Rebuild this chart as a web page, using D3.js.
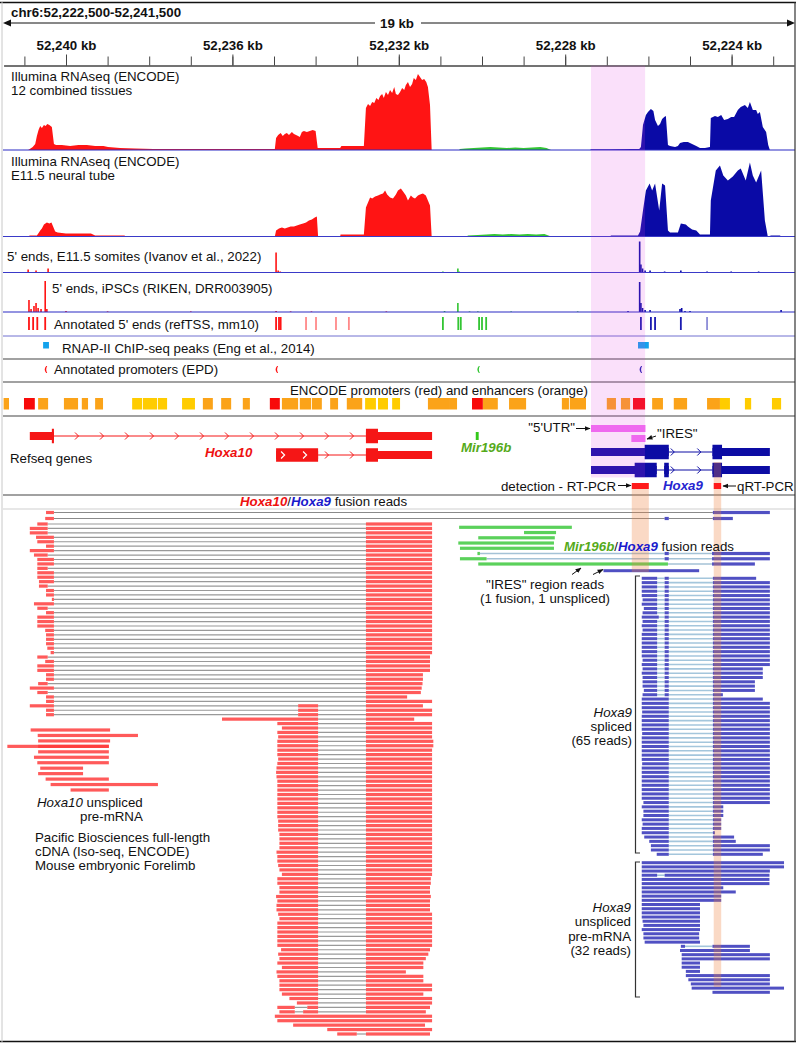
<!DOCTYPE html>
<html><head><meta charset="utf-8">
<script src="https://cdn.jsdelivr.net/npm/d3@7/dist/d3.min.js"></script>
<style>
html,body{margin:0;padding:0;background:#fff;}
svg{display:block;}
text{font-family:"Liberation Sans",Arial,Helvetica,sans-serif;font-size:13.3px;fill:#111;}
</style></head><body>
<svg id="chart" width="798" height="1045"></svg>
<script>
// ================= DATA =================
// Locus positions are kb from the left edge of the window (chr6:52,241,500), read rightwards
// (the view is reverse-complemented: genomic coordinate = 52241.5 - position).
const winStartKb = 52241.5;
const majorTickKb = [52240, 52236, 52232, 52228, 52224];
const minorTickKb = [52241,52240,52239,52238,52237,52236,52235,52234,52233,52232,52231,52230,52229,52228,52227,52226,52225,52224,52223];

// Illumina RNA-seq coverage, 12 combined tissues: [position, coverage]
const covTissuesRed = [[0.59,0],[0.63,1],[0.70,3],[0.76,6],[0.80,14],[0.84,20],[0.88,24],[0.92,22],[0.97,25],[1.01,24],[1.05,26],[1.10,25],[1.16,23],[1.21,6],[1.26,5],[1.40,5],[1.60,4],[1.80,5],[2.00,5],[2.20,4],[2.40,4],[2.51,3],[2.80,2],[3.16,1.5],[3.60,1],[4.24,1],[5.40,1],[6.20,1],[6.52,1],[6.55,12],[6.60,15],[6.66,17],[6.71,14],[6.76,16],[6.81,17],[6.86,15],[6.93,18],[6.98,16],[7.03,15],[7.08,14],[7.12,13],[7.17,18],[7.22,19],[7.29,18],[7.36,19],[7.43,20],[7.50,19],[7.55,2],[8.09,2],[8.12,4],[8.66,4],[8.71,42],[8.76,46],[8.81,44],[8.86,48],[8.91,47],[8.96,52],[9.01,50],[9.05,54],[9.10,56],[9.14,52],[9.19,58],[9.24,55],[9.29,60],[9.34,57],[9.39,63],[9.43,56],[9.48,55],[9.53,58],[9.58,62],[9.63,60],[9.67,65],[9.72,68],[9.77,63],[9.82,66],[9.86,72],[9.91,70],[9.96,76],[10.01,73],[10.06,70],[10.11,71],[10.16,68],[10.20,63],[10.25,45],[10.29,0]];
const covTissuesGreen = [[10.95,0],[10.97,1],[11.10,1.5],[11.30,2],[11.50,2.5],[11.70,3],[11.90,2.5],[12.10,2],[12.30,2.5],[12.50,2],[12.70,2.5],[12.90,3],[13.05,2],[13.16,0]];
const covTissuesBlue = [[14.10,0],[14.12,0.8],[14.60,0.8],[15.10,1],[15.28,1],[15.32,3],[15.37,25],[15.44,35],[15.49,38],[15.56,41],[15.62,39],[15.66,30],[15.73,24],[15.78,26],[15.83,31],[15.88,33],[15.92,34],[15.97,5],[16.02,4],[16.14,3],[16.21,4],[16.26,7],[16.35,8],[16.45,8],[16.55,6],[16.65,4],[16.74,2],[16.86,2],[16.98,3],[17.00,32],[17.05,33],[17.10,34],[17.17,33],[17.25,35],[17.32,30],[17.41,31],[17.49,33],[17.56,33],[17.65,40],[17.72,43],[17.82,45],[17.89,42],[17.94,48],[18.01,40],[18.09,40],[18.13,36],[18.18,38],[18.25,23],[18.33,18],[18.38,5],[18.42,0]];

// Illumina RNA-seq coverage, E11.5 neural tube
const covNeuralRed = [[0.59,0],[0.63,1],[0.80,1],[0.85,4],[0.88,6],[0.92,8],[0.97,12],[1.04,14],[1.10,13],[1.15,14],[1.19,10],[1.24,5],[1.30,4],[1.50,3],[1.80,3],[2.10,3],[2.20,1],[2.90,1],[2.95,0],[6.52,0],[6.55,6],[6.62,8],[6.69,9],[6.76,8],[6.83,9],[6.90,10],[6.98,10],[7.05,11],[7.12,12],[7.20,13],[7.27,14],[7.34,16],[7.41,17],[7.48,19],[7.53,20],[7.56,0],[8.09,0],[8.10,2],[8.66,2],[8.71,29],[8.76,34],[8.81,39],[8.86,38],[8.93,40],[9.00,41],[9.05,42],[9.12,43],[9.17,46],[9.22,42],[9.29,39],[9.36,38],[9.43,42],[9.48,46],[9.55,48],[9.62,44],[9.67,41],[9.72,36],[9.79,41],[9.84,39],[9.89,38],[9.96,41],[10.01,42],[10.08,43],[10.15,41],[10.20,36],[10.25,31],[10.29,0]];
const covNeuralGreen = [[11.14,0],[11.16,1],[11.40,1.5],[11.60,2],[11.80,2.5],[12.00,2],[12.20,2.5],[12.40,2],[12.60,2.5],[12.80,2],[13.00,2.5],[13.16,0]];
const covNeuralBlue = [[14.58,0],[14.60,1],[15.25,1],[15.30,5],[15.37,26],[15.44,46],[15.53,53],[15.59,46],[15.66,53],[15.76,26],[15.83,53],[15.90,51],[15.97,6],[16.02,4],[16.21,4],[16.28,13],[16.40,12],[16.45,10],[16.55,7],[16.65,6],[16.74,2],[16.98,2],[17.00,36],[17.12,66],[17.22,71],[17.30,61],[17.41,56],[17.53,60],[17.65,66],[17.72,68],[17.84,56],[17.94,74],[18.01,61],[18.09,54],[18.21,66],[18.30,16],[18.37,0],[18.45,1],[18.66,1],[18.70,0]];

// 5' end (CAGE-like) counts: [position, count]
const somitesRed = [[0.59,3],[0.78,2],[1.07,4],[6.55,20],[6.60,2],[6.65,1]];
const somitesGreen = [[10.56,1],[10.92,4],[10.95,1]];
const somitesBlue = [[15.29,31],[15.32,8],[15.36,4],[15.42,2],[15.54,2],[15.89,1],[16.28,2],[16.91,1],[17.49,1],[18.15,1]];
const ipscRed = [[0.61,12],[0.66,3],[0.73,6],[0.78,9],[0.83,4],[0.90,3],[1.00,31],[1.04,3],[1.50,1],[2.50,0.6],[4.50,0.6],[6.55,1],[6.90,0.6],[7.40,0.6],[9.20,0.6]];
const ipscGreen = [[10.60,1],[10.92,9],[11.20,0.6],[11.40,0.6],[12.20,0.6],[13.80,0.6]];
const ipscBlue = [[15.01,1],[15.29,30],[15.32,9],[15.36,4],[15.42,2],[15.54,2],[16.26,3],[16.30,4],[16.38,1],[16.50,1],[18.69,2]];

// Annotated 5' ends (refTSS): [position, score]
const refTssRed = [[0.61,1],[0.71,1],[0.81,1],[1.00,1],[6.55,1],[6.62,1],[6.66,1],[7.27,0.5],[7.51,0.5],[7.99,0.5],[8.30,0.5]];
const refTssGreen = [[10.56,1],[10.93,1],[10.99,1],[11.43,1],[11.50,1],[11.60,1]];
const refTssBlue = [[15.32,1],[15.56,1],[15.66,1],[16.28,1],[16.91,0.5]];

// RNAP-II ChIP-seq peaks: [start, end]
const polIIPeaks = [[0.95,1.09],[15.25,15.51]];
// EPD promoters: [position, gene]
const epdPromoters = [[1.00,'Hoxa10'],[6.55,'Hoxa10'],[11.40,'Mir196b'],[15.30,'Hoxa9']];

// ENCODE cCREs: [start, end]
const encodePromoters = [[0.49,0.75],[6.40,6.64],[11.26,11.52],[15.13,15.42]];
const encodeProxEnh = [[0.00,0.13],[0.83,1.07],[1.45,1.79],[1.88,2.03],[2.20,2.39],[4.79,5.03],[5.23,5.47],[5.75,5.92],[6.69,7.08],[7.12,7.39],[7.41,7.65],[7.85,8.04],[8.25,8.62],[10.20,10.73],[10.73,10.90],[11.52,11.88],[12.15,12.56],[13.42,13.59],[13.61,14.00],[14.50,14.72],[14.84,15.06],[15.59,15.85],[16.11,16.43],[16.91,17.22]];
const encodeDistalEnh = [[3.09,3.33],[3.35,3.69],[3.71,3.93],[4.29,4.60],[8.69,8.95],[9.00,9.24],[9.34,9.53],[17.22,17.46],[17.82,17.97],[18.47,18.69]];

// RefSeq gene models: exons and coding parts
const hoxa10Tx1Exons = [[0.63,1.21],[8.71,10.30]];
const hoxa10Tx1Cds = [[1.16,1.21],[8.71,9.00]];
const hoxa10Tx2Exons = [[6.55,7.56],[8.71,10.30]];
const hoxa10Tx2Cds = [[6.55,7.56],[8.71,9.00]];
const mir196bExons = [[11.35,11.42]];
const hoxa9Tx1Exons = [[14.12,15.99],[17.04,18.42]];
const hoxa9Tx1Cds = [[15.41,15.99],[17.04,17.27]];
const hoxa9Tx2Exons = [[14.12,15.70],[15.88,15.99],[17.04,18.42]];
const hoxa9Tx2Cds = [[15.17,15.70],[15.88,15.99],[17.04,17.27]];
const utr5Region = [14.12,15.43];
const iresRegion = [15.09,15.43];
const rtPcrAmplicons = [[15.10,15.51],[17.07,17.25]];

// Gene territories used to colour reads: [gene, last position]
const geneTerritories = [['Hoxa10',10.6],['Mir196b',14.0],['Hoxa9',19]];

// PacBio reads, each as flat list of aligned blocks [s1,e1,s2,e2,...]
const hoxa10Hoxa9FusionReads = [
 [1.02,1.21,17.05,18.42],
 [1.00,1.21,15.89,15.99,17.05,17.53]];
const hoxa10Reads = [
 [0.81,1.06,8.71,10.30],[0.63,1.06,8.71,10.30],[0.63,1.06,8.71,10.30],[0.78,1.21,8.71,10.30],[0.81,1.21,8.71,10.30],
 [1.02,1.21,8.71,10.30],[0.63,1.21,8.71,10.30],[0.73,1.06,8.71,10.30],[0.81,1.21,8.71,10.30],[0.81,1.21,8.71,10.30],
 [0.81,1.06,8.71,10.30],[0.81,1.21,8.71,10.30],[0.81,1.21,8.71,10.30],[0.85,1.21,8.71,10.30],[0.85,1.06,8.71,10.30],
 [1.02,1.21,8.71,10.30],[1.02,1.21,8.71,10.30],[1.16,1.21,8.71,10.30],[0.73,1.21,8.71,10.30],[0.81,1.06,8.71,10.30],
 [1.02,1.21,8.71,10.30],[0.81,1.21,8.71,10.30],[0.81,1.21,8.71,10.30],[0.81,1.21,8.71,10.30],[1.00,1.21,8.71,10.30],
 [1.02,1.21,8.71,10.30],[1.02,1.21,8.71,10.30],[1.02,1.21,8.71,10.30],[1.05,1.21,8.71,10.30],[1.13,1.21,8.71,10.30],
 [0.81,1.06,8.71,10.25],[1.00,1.21,8.71,10.25],[0.81,1.21,8.71,10.25],[0.81,1.21,8.71,10.25],[1.02,1.21,8.71,10.08],
 [1.02,1.21,8.71,10.08],[0.83,1.06,8.71,10.07],[0.63,1.21,8.71,10.05],[0.81,1.06,8.71,10.03],[1.02,1.21,8.71,9.70],
 [1.02,1.21,8.71,10.30],[0.63,1.21,7.08,7.56,8.71,10.08],[1.02,1.21,7.08,7.56,8.71,10.30],[1.02,1.21,7.08,7.56,8.71,10.30],[5.25,7.56,8.71,9.87],
 [6.58,7.56,8.71,10.30],[6.69,7.56,8.71,10.30],[6.58,7.56,8.71,10.30],[6.60,7.56,8.71,10.30],[6.58,7.56,8.71,10.33],
 [6.58,7.56,8.71,10.33],[6.58,7.56,8.71,10.30],[6.58,7.56,8.71,10.30],[6.60,7.56,8.71,10.30],[6.58,7.56,8.71,10.30],
 [6.56,7.56,8.71,10.30],[6.55,7.56,8.71,10.30],[6.56,7.56,8.71,10.30],[6.58,7.56,8.71,10.30],[6.58,7.56,8.71,10.30],
 [6.58,7.56,8.71,10.30],[6.58,7.56,8.71,10.30],[6.58,7.56,8.71,10.30],[6.58,7.56,8.71,10.30],[6.58,7.56,8.71,10.30],
 [6.58,7.56,8.71,10.30],[6.58,7.56,8.71,10.30],[6.60,7.56,8.71,10.30],[6.60,7.56,8.71,10.30],[6.60,7.56,8.71,10.30],
 [6.63,7.56,8.71,10.30],[6.63,7.56,8.71,10.30],[6.63,7.56,8.71,10.30],[6.63,7.56,8.71,10.30],[6.56,7.56,8.71,10.30],
 [6.58,7.56,8.71,10.30],[6.58,7.56,8.71,10.30],[6.60,7.56,8.71,10.30],[6.63,7.56,8.71,10.30],[6.69,7.56,8.71,10.30],
 [6.58,7.56,8.71,10.27],[6.58,7.56,8.71,10.27],[6.63,7.56,8.71,10.25],[6.63,7.56,8.71,10.25],[6.55,7.56,8.71,10.27],
 [6.58,7.56,8.71,10.25],[6.56,7.56,8.71,10.25],[6.56,7.56,8.71,10.25],[6.60,7.56,8.71,10.30],[6.63,7.56,8.71,10.30],
 [6.58,7.56,8.71,10.30],[6.58,7.56,8.71,10.30],[6.58,7.56,8.71,10.30],[6.58,7.56,8.71,10.30],[6.58,7.56,8.71,10.30],
 [6.58,7.56,8.71,10.30],[6.67,7.56,8.71,10.25],[6.60,7.56,8.71,10.21],[6.63,7.56,8.71,10.15],[6.58,7.56,8.71,10.09],
 [6.69,7.56,8.71,10.09],[6.56,7.56,8.71,9.67],[6.58,7.56,8.71,10.09],[6.63,7.56,8.71,10.09],[6.63,7.56,8.71,10.30],
 [6.63,7.56,8.71,10.30],[6.69,7.56,8.71,10.09],[6.87,7.56,8.71,10.30],[7.05,7.56,8.71,10.30],[6.58,7.00,7.30,7.56,8.71,10.25],
 [6.63,7.00,7.20,7.56,8.71,10.15],[6.52,10.30],[6.58,10.30],[6.96,10.13],[7.78,10.30],
 [8.02,8.49,8.71,10.25]];
const hoxa10UnsplicedReads = [[0.65,2.56],[0.82,3.23],[0.83,2.56],[0.09,2.53],[0.83,2.53],[0.73,2.53],[0.81,2.53],[0.88,1.91],[0.83,1.91],[1.01,2.53],[1.13,3.71],[1.61,2.53],[0.83,2.53]];
const hoxa10UnsplicedRows = [0,1,2,3,4,5,6,7,8,9,10,11,3];
const mir196bReads = [
 [10.95,13.66],[12.51,13.28],[11.41,13.25],[10.93,13.23],[10.97,13.23],
 [11.39,11.45,15.89,15.99,17.03,18.42],[10.97,11.61,15.89,15.99,17.03,18.42],[11.41,15.97,17.03,18.06]];
const iresUnsplicedRead = [14.42,16.72];
const hoxa9SplicedReads = [
 [15.34,15.71,15.89,15.99,17.05,18.09],[15.34,15.71,15.89,15.99,17.05,18.42],[15.34,15.71,15.89,15.99,17.05,18.42],[15.34,15.71,15.89,15.99,17.05,18.42],[15.34,15.71,15.89,15.99,17.05,18.42],
 [15.36,15.71,15.89,15.99,17.05,18.42],[15.34,15.71,15.89,15.99,17.05,18.42],[15.39,15.71,15.89,15.99,17.05,18.42],[15.36,15.71,15.89,15.99,17.05,18.42],[15.34,15.75,15.89,15.99,17.05,18.42],
 [15.36,15.71,15.89,15.99,17.05,18.42],[15.34,15.71,15.89,15.99,17.05,18.42],[15.36,15.71,15.89,15.99,17.05,18.42],[15.34,15.71,15.89,15.99,17.05,18.42],[15.34,15.71,15.89,15.99,17.05,18.42],
 [15.34,15.71,15.89,15.99,17.05,18.42],[15.34,15.71,15.89,15.99,17.05,18.42],[15.34,15.71,15.89,15.99,17.05,18.42],[15.34,15.71,15.89,15.99,17.05,18.42],[15.36,15.71,15.89,15.99,17.05,18.42],
 [15.34,15.71,15.89,15.99,17.05,18.42],[15.36,15.71,15.89,15.99,17.05,18.25],[15.34,15.71,15.89,15.99,17.05,18.25],[15.36,15.71,15.89,15.99,17.05,18.25],[15.36,15.71,15.89,15.99,17.05,18.06],
 [15.36,15.71,15.89,15.99,17.05,18.06],[15.39,15.71,15.89,15.99,17.05,18.06],[15.36,15.71,15.89,15.99,17.05,17.29],
 [15.34,15.99,17.05,18.25],[15.34,15.99,17.05,18.42],[15.34,15.99,17.05,18.42],[15.35,15.99,17.05,18.42],[15.34,15.99,17.05,18.42],
 [15.34,15.99,17.05,18.42],[15.34,15.99,17.05,18.42],[15.34,15.99,17.05,18.42],[15.35,15.99,17.05,18.42],[15.34,15.99,17.05,18.42],
 [15.34,15.99,17.05,18.42],[15.34,15.99,17.05,18.42],[15.34,15.99,17.05,18.42],[15.34,15.99,17.05,18.42],[15.34,15.99,17.05,18.42],
 [15.35,15.99,17.05,18.42],[15.34,15.99,17.05,18.42],[15.34,15.99,17.05,18.42],[15.34,15.99,17.05,18.42],[15.34,15.99,17.05,18.42],
 [15.34,15.99,17.05,18.42],[15.34,15.99,17.05,18.42],[15.34,15.99,17.05,18.42],[15.34,15.99,17.05,18.42],[15.38,15.99,17.05,18.42],
 [15.34,15.99,17.05,17.30],[15.38,15.99,17.05,17.30],[15.38,15.99,17.05,17.30],[15.34,15.99,17.05,17.25],[15.36,15.99,17.05,17.25],
 [15.34,15.99,17.05,17.25],[15.34,15.99,17.05,17.10],[15.40,15.99,17.05,17.56],[15.52,15.99,17.05,17.60],[15.56,15.99,17.05,18.42],
 [15.56,15.99,17.05,18.42],[15.70,15.99,17.05,18.25]];
const hoxa9UnsplicedReads = [
 [15.34,18.76],[15.34,18.76],[15.34,18.42],[15.34,15.71,15.89,18.41],[15.34,18.41],[15.34,18.41],[15.34,17.30],[15.34,17.60],
 [15.34,17.25],[15.34,17.25],[15.34,16.74],[15.34,16.74],[15.34,16.74],[15.34,16.74],[15.36,16.74],[15.38,16.74],
 [15.34,16.74],[15.38,16.72],[15.38,16.72],[15.41,16.74],[16.28,16.38,17.04,17.94],[16.26,17.94],[16.30,18.42],[16.30,18.42],
 [16.30,16.74],[16.30,16.74],[16.40,16.74],[16.40,18.42],[16.46,18.42],[16.52,18.42],[16.54,18.76],[17.04,18.42]];

// ================= DRAWING =================
const W = 798, H = 1045;
const svg = d3.select('#chart');
svg.append('rect').attr('width', W).attr('height', H).attr('fill', '#fff');
const x = d3.scaleLinear().domain([0, 19]).range([3.6, 794]);
const toPos = kb => winStartKb - kb;
const RED = '#ff1414', GREEN = '#33c533', BLUE = '#0a0aa6';

function styleText(t, opt) {
  if (opt.anchor) t.attr('text-anchor', opt.anchor);
  if (opt.bold) t.attr('font-weight', 'bold');
  if (opt.italic) t.attr('font-style', 'italic');
  if (opt.size) t.attr('font-size', opt.size);
  if (opt.fill) t.style('fill', opt.fill);
  return t;
}
function txt(px, py, s, opt = {}) {
  return styleText(svg.append('text').attr('x', px).attr('y', py).text(s), opt);
}
// multi-line text in ONE text element; each line is a list of [string, {italic,bold,fill}] segments
function mtxt(px, py, lines, lh, opt = {}) {
  const t = styleText(svg.append('text').attr('x', px).attr('y', py), opt);
  lines.forEach((line, i) => {
    const segs = typeof line === 'string' ? [[line, {}]] : line;
    segs.forEach((sg, j) => {
      const sp = t.append('tspan').text(sg[0]);
      if (j === 0) sp.attr('x', px).attr('dy', i === 0 ? 0 : lh);
      if (sg[1].italic) sp.attr('font-style', 'italic');
      if (sg[1].bold) sp.attr('font-weight', 'bold');
      if (sg[1].fill) sp.style('fill', sg[1].fill);
    });
  });
  return t;
}
function hline(y, x1, x2, color, w = 1) {
  svg.append('line').attr('x1', x1).attr('x2', x2).attr('y1', y).attr('y2', y)
    .attr('stroke', color).attr('stroke-width', w);
}

// ---- header ----
txt(11, 17, 'chr6:52,222,500-52,241,500', { bold: true, size: 13.6 });
hline(23, 9, 375, '#111');
hline(23, 421, 789, '#111');
svg.append('path').attr('d', 'M3,23 L11,19.5 L11,26.5 Z').attr('fill', '#111');
svg.append('path').attr('d', 'M795,23 L787,19.5 L787,26.5 Z').attr('fill', '#111');
txt(397, 28, '19 kb', { bold: true, anchor: 'middle', size: 13.3 });

// ---- axis ----
const axMinor = svg.append('g').attr('transform', 'translate(0,65.5)')
  .call(d3.axisTop(x).tickValues(minorTickKb.map(toPos)).tickSize(9).tickSizeOuter(0).tickFormat(''));
const axMajor = svg.append('g').attr('transform', 'translate(0,65.5)')
  .call(d3.axisTop(x).tickValues(majorTickKb.map(toPos)).tickSize(11).tickSizeOuter(0).tickPadding(5)
    .tickFormat(p => d3.format(',')(Math.round(winStartKb - p)) + ' kb'));
[axMinor, axMajor].forEach(g => {
  g.attr('color', '#444');
  g.selectAll('text').attr('font-size', 13.3).attr('font-weight', 'bold')
    .attr('font-family', '"Liberation Sans",Arial,sans-serif').style('fill', '#111');
});

// ---- coverage tracks ----
function coverage(data, ys, color) {
  svg.append('path').datum(data).attr('fill', color)
    .attr('d', d3.area().x(d => x(d[0])).y0(ys(0)).y1(d => ys(d[1])));
}
const yTissues = d3.scaleLinear().domain([0, 80]).range([150, 70]);
coverage(covTissuesRed, yTissues, RED);
coverage(covTissuesGreen, yTissues, GREEN);
coverage(covTissuesBlue, yTissues, BLUE);
const yNeural = d3.scaleLinear().domain([0, 80]).range([236.5, 156.5]);
coverage(covNeuralRed, yNeural, RED);
coverage(covNeuralGreen, yNeural, GREEN);
coverage(covNeuralBlue, yNeural, BLUE);

function spikes(data, ys, color) {
  svg.append('g').selectAll('rect').data(data).join('rect')
    .attr('x', d => x(d[0]) - 0.8).attr('width', 1.6)
    .attr('y', d => ys(d[1])).attr('height', d => ys(0) - ys(d[1])).attr('fill', color);
}
const ySomites = d3.scaleLinear().domain([0, 35]).range([272.5, 237.5]);
spikes(somitesRed, ySomites, RED); spikes(somitesGreen, ySomites, GREEN); spikes(somitesBlue, ySomites, BLUE);
const yIpsc = d3.scaleLinear().domain([0, 38]).range([312, 274]);
spikes(ipscRed, yIpsc, RED); spikes(ipscGreen, yIpsc, GREEN); spikes(ipscBlue, yIpsc, BLUE);

function ticksTrack(data, color) {
  svg.append('g').selectAll('rect').data(data).join('rect')
    .attr('x', d => x(d[0]) - 0.9).attr('width', 1.8).attr('y', 317).attr('height', 13)
    .attr('fill', color).attr('opacity', d => d[1]);
}
ticksTrack(refTssRed, RED); ticksTrack(refTssGreen, GREEN); ticksTrack(refTssBlue, '#1a1ab0');

svg.append('g').selectAll('rect').data(polIIPeaks).join('rect')
  .attr('x', d => x(d[0])).attr('width', d => x(d[1]) - x(d[0])).attr('y', 342).attr('height', 6.5).attr('fill', '#14a2ec');

const epdColor = { Hoxa10: RED, Mir196b: GREEN, Hoxa9: '#2020b0' };
svg.append('g').selectAll('path').data(epdPromoters).join('path')
  .attr('d', d => { const cx = x(d[0]); return `M${cx+1},366 Q${cx-2},369.5 ${cx+1},373 L${cx+2},373 Q${cx},369.5 ${cx+2},366 Z`; })
  .attr('fill', d => epdColor[d[1]]);

function boxes(data, color) {
  svg.append('g').selectAll('rect').data(data).join('rect')
    .attr('x', d => x(d[0])).attr('width', d => x(d[1]) - x(d[0])).attr('y', 398).attr('height', 11.5).attr('fill', color);
}
boxes(encodeProxEnh, '#fba319');
boxes(encodeDistalEnh, '#ffcc00');
boxes(encodePromoters, '#f80a0a');

// track separators
hline(150, 3, 795, '#2a2ac4', 1.2);
hline(236.5, 3, 795, '#3a3ac8', 1.2);
hline(272.5, 3, 795, '#3a3ac8', 1.2);
hline(312, 3, 795, '#2a2ac4', 1.2);
hline(336, 3, 795, '#7070d0', 1);
hline(359, 3, 795, '#444', 1.2);
hline(382, 3, 795, '#444', 1.2);
hline(416, 3, 795, '#444', 1.2);
hline(495, 3, 795, '#444', 1.2);
hline(509, 3, 795, '#cfcfcf', 1);

// track labels
mtxt(11, 81, ['Illumina RNAseq (ENCODE)', '12 combined tissues'], 13.5, { size: 12.8 });
mtxt(11, 166, ['Illumina RNAseq (ENCODE)', 'E11.5 neural tube'], 13.5, { size: 12.8 });
txt(7, 261, "5' ends, E11.5 somites (Ivanov et al., 2022)");
txt(52, 293, "5' ends, iPSCs (RIKEN, DRR003905)");
txt(54, 328.5, "Annotated 5' ends (refTSS, mm10)");
txt(62, 353, 'RNAP-II ChIP-seq peaks (Eng et al., 2014)');
txt(54, 373.5, 'Annotated promoters (EPD)');
txt(290, 395, 'ENCODE promoters (red) and enhancers (orange)');

// ---- gene models ----
function chevron(px, cy, color, w = 1) {
  svg.append('path').attr('d', `M${px-2},${cy-3.5} L${px+1.5},${cy} L${px-2},${cy+3.5}`)
    .attr('fill', 'none').attr('stroke', color).attr('stroke-width', w);
}
function gene(exons, cds, cy, color, opt = {}) {
  const thin = opt.thin || 8, thick = opt.thick || 14.5;
  for (let i = 1; i < exons.length; i++) {
    const a = x(exons[i-1][1]), b = x(exons[i][0]);
    hline(cy, a, b, color, 1);
    const step = opt.step || 25;
    const start = opt.phase !== undefined ? Math.ceil((a + 6 - opt.phase) / step) * step + opt.phase : a + 4;
    for (let p = start; p < b - 6; p += step) chevron(p, cy, color);
  }
  svg.append('g').selectAll('rect').data(exons).join('rect')
    .attr('x', d => x(d[0])).attr('width', d => x(d[1]) - x(d[0])).attr('y', cy - thin / 2).attr('height', thin).attr('fill', color);
  svg.append('g').selectAll('rect').data(cds).join('rect')
    .attr('x', d => x(d[0])).attr('width', d => x(d[1]) - x(d[0])).attr('y', cy - thick / 2).attr('height', thick).attr('fill', color);
}
gene(hoxa10Tx1Exons, hoxa10Tx1Cds, 436, '#f51616', { phase: 2 });
gene(hoxa10Tx2Exons, hoxa10Tx2Cds, 455, '#f51616', { phase: 2, thick: 13.5 });
// white direction chevrons inside the long coding exon
for (let p = x(hoxa10Tx2Cds[0][0]) + 7; p < x(hoxa10Tx2Cds[0][1]) - 6; p += 22) chevron(p, 455, '#fff', 1.2);
gene(mir196bExons, [], 436, '#33c81a');
gene(hoxa9Tx1Exons, hoxa9Tx1Cds, 452, '#0c0ca4', { step: 26.5 });
gene(hoxa9Tx2Exons, hoxa9Tx2Cds, 470, '#0c0ca4', { step: 26.5 });

// UTR / IRES / RT-PCR annotations
svg.append('rect').attr('x', x(utr5Region[0])).attr('width', x(utr5Region[1]) - x(utr5Region[0])).attr('y', 425).attr('height', 7).attr('fill', '#f272f2');
svg.append('rect').attr('x', x(iresRegion[0])).attr('width', x(iresRegion[1]) - x(iresRegion[0])).attr('y', 435).attr('height', 7).attr('fill', '#f272f2');
svg.append('g').selectAll('rect').data(rtPcrAmplicons).join('rect')
  .attr('x', d => x(d[0])).attr('width', d => x(d[1]) - x(d[0])).attr('y', 483).attr('height', 6).attr('fill', '#ff1a1a');

// arrow marker
svg.append('defs').append('marker').attr('id', 'ah').attr('viewBox', '0 0 10 10').attr('refX', 9).attr('refY', 5)
  .attr('markerWidth', 6).attr('markerHeight', 6).attr('orient', 'auto-start-reverse')
  .append('path').attr('d', 'M0,1 L10,5 L0,9 Z').attr('fill', '#111');
function arrow(x1, y1, x2, y2) {
  svg.append('line').attr('x1', x1).attr('y1', y1).attr('x2', x2).attr('y2', y2)
    .attr('stroke', '#111').attr('stroke-width', 1).attr('marker-end', 'url(#ah)');
}

txt(10, 463, 'Refseq genes');
txt(205, 457, 'Hoxa10', { bold: true, italic: true, fill: '#ee1111' });
txt(461, 452, 'Mir196b', { bold: true, italic: true, fill: '#55aa1a' });
txt(575, 432, '"5\'UTR"', { anchor: 'end' });
arrow(576, 428.5, 590, 428.5);
txt(657, 438, '"IRES"');
arrow(656, 436, 647, 439);
txt(616, 491, 'detection - RT-PCR', { anchor: 'end' });
arrow(618, 485.5, 631, 485.5);
txt(663, 490, 'Hoxa9', { bold: true, italic: true, fill: '#2525d0' });
arrow(736, 486, 723, 486);
txt(737, 491, 'qRT-PCR');

// ---- reads ----
function readColor(s) {
  const g = geneTerritories.find(t => s < t[1])[0];
  return g === 'Hoxa10' ? '#ff3a3a' : g === 'Mir196b' ? '#3cc83c' : '#2e2eb8';
}
function drawRead(flat, cy, opt = {}) {
  const h = opt.h || 3.2;
  const col = readColor(flat[0]);
  for (let i = 2; i < flat.length; i += 2) {
    hline(cy, x(flat[i-1]), x(flat[i]), opt.intron || '#999', opt.iw || 1.2);
  }
  for (let i = 0; i < flat.length; i += 2) {
    svg.append('rect').attr('x', x(flat[i])).attr('width', Math.max(1, x(flat[i+1]) - x(flat[i])))
      .attr('y', cy - h / 2).attr('height', h).attr('fill', col).attr('fill-opacity', 0.84);
  }
}
const rowFusion = d3.scaleLinear().domain([0, 1]).range([512.5, 518.5]);
hoxa10Hoxa9FusionReads.forEach((r, i) => {
  for (let k = 2; k < r.length; k += 2) hline(rowFusion(i), x(r[k-1]), x(r[k]), '#8a8a8a', 1.1);
  for (let k = 0; k < r.length; k += 2)
    svg.append('rect').attr('x', x(r[k])).attr('width', x(r[k+1]) - x(r[k])).attr('y', rowFusion(i) - 1.6)
      .attr('height', 3.2).attr('fill', readColor(r[k])).attr('fill-opacity', 0.84);
});
const rowMain = d3.scaleLinear().domain([0, 115]).range([524, 1034]);
hoxa10Reads.forEach((r, i) => drawRead(r, rowMain(i)));
const rowUnspl10 = d3.scaleLinear().domain([0, 11]).range([730, 790]);
hoxa10UnsplicedReads.forEach((r, i) => drawRead(r, rowUnspl10(hoxa10UnsplicedRows[i])));
const rowMir = d3.scaleLinear().domain([0, 7]).range([527.3, 564]);
mir196bReads.forEach((r, i) => {
  for (let k = 2; k < r.length; k += 2) hline(rowMir(i), x(r[k-1]), x(r[k]), '#a4c2d6', 1.3);
  for (let k = 0; k < r.length; k += 2)
    svg.append('rect').attr('x', x(r[k])).attr('width', x(r[k+1]) - x(r[k])).attr('y', rowMir(i) - 1.6)
      .attr('height', 3.2).attr('fill', k === 0 ? '#3cc83c' : '#2e2eb8').attr('fill-opacity', 0.84);
});
drawRead(iresUnsplicedRead, 570.7, { h: 3 });
const rowSpl9 = d3.scaleLinear().domain([0, 64]).range([578.3, 854.3]);
hoxa9SplicedReads.forEach((r, i) => drawRead(r, rowSpl9(i), { h: 3, intron: '#a4c6dc', iw: 1.6 }));
const rowUns9 = d3.scaleLinear().domain([0, 31]).range([862.7, 992.3]);
hoxa9UnsplicedReads.forEach((r, i) => drawRead(r, rowUns9(i), { h: 3, intron: '#a4c6dc', iw: 1.6 }));

// ---- highlight overlays ----
svg.append('rect').attr('x', x(utr5Region[0])).attr('width', x(15.42) - x(utr5Region[0]))
  .attr('y', 65.5).attr('height', 412).attr('fill', '#e040e0').attr('opacity', 0.16);
svg.append('rect').attr('x', x(rtPcrAmplicons[0][0])).attr('width', x(rtPcrAmplicons[0][1]) - x(rtPcrAmplicons[0][0]))
  .attr('y', 489).attr('height', 83).attr('fill', '#f08040').attr('opacity', 0.3);
svg.append('rect').attr('x', x(rtPcrAmplicons[1][0])).attr('width', x(rtPcrAmplicons[1][1]) - x(rtPcrAmplicons[1][0]))
  .attr('y', 462).attr('height', 21).attr('fill', '#f08040').attr('opacity', 0.3);
svg.append('rect').attr('x', x(rtPcrAmplicons[1][0])).attr('width', x(rtPcrAmplicons[1][1]) - x(rtPcrAmplicons[1][0]))
  .attr('y', 489).attr('height', 498).attr('fill', '#f08040').attr('opacity', 0.3);

// ---- read group labels ----
mtxt(240, 506, [[['Hoxa10', { bold: true, italic: true, fill: '#ee1111' }], ['/', {}], ['Hoxa9', { bold: true, italic: true, fill: '#1a1acc' }], [' fusion reads', {}]]], 0);
mtxt(564, 551, [[['Mir196b', { bold: true, italic: true, fill: '#55aa1a' }], ['/', {}], ['Hoxa9', { bold: true, italic: true, fill: '#1a1acc' }], [' fusion reads', {}]]], 0);
mtxt(545, 589, ['"IRES" region reads', '(1 fusion, 1 unspliced)'], 14, { anchor: 'middle' });
arrow(572, 574.5, 581, 568);
arrow(593, 574.5, 603, 569.5);

function bracket(y1, y2) {
  svg.append('path').attr('d', `M640,${y1} H635.5 V${y2} H640`).attr('fill', 'none').attr('stroke', '#333').attr('stroke-width', 1.2);
}
bracket(576, 853);
bracket(862, 997);
mtxt(632, 717, [[['Hoxa9', { italic: true }]], 'spliced', '(65 reads)'], 14, { anchor: 'end' });
mtxt(631, 911.5, [[['Hoxa9', { italic: true }]], 'unspliced', 'pre-mRNA', '(32 reads)'], 14.5, { anchor: 'end' });
mtxt(37, 807, [[['Hoxa10', { italic: true }], [' unspliced', {}]]], 0);
txt(80, 821, 'pre-mRNA');
mtxt(35, 842, ['Pacific Biosciences full-length', 'cDNA (Iso-seq, ENCODE)', 'Mouse embryonic Forelimb'], 14);

// ---- frame ----
hline(2.5, 0, 796, '#111', 1.5);
hline(1041.5, 0, 796, '#111', 1.5);
svg.append('line').attr('x1', 2).attr('x2', 2).attr('y1', 2).attr('y2', 1042).attr('stroke', '#c8c8c8');
svg.append('line').attr('x1', 795).attr('x2', 795).attr('y1', 2).attr('y2', 1042).attr('stroke', '#333').attr('stroke-width', 1.2);
</script></body></html>
